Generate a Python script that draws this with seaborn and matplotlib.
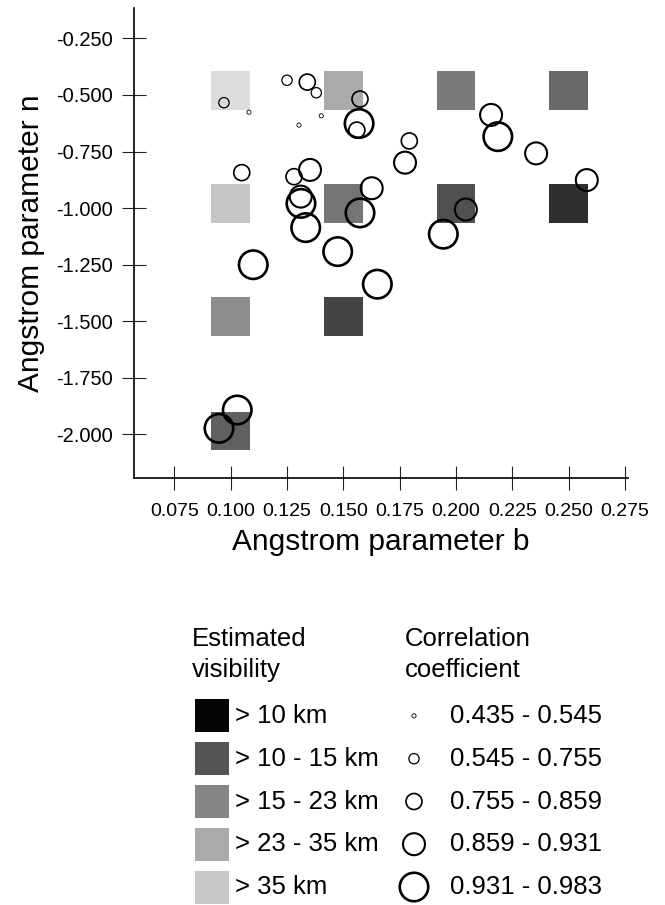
import numpy as np
import pandas as pd
import matplotlib
matplotlib.use("Agg")
import matplotlib.pyplot as plt
from matplotlib.patches import Rectangle
from matplotlib.colors import LinearSegmentedColormap
from matplotlib.ticker import FormatStrFormatter
import seaborn as sns

# --- estimated visibility grid (filled squares) ---
grid_b = [0.10, 0.15, 0.20, 0.25, 0.10, 0.15, 0.20, 0.25, 0.10, 0.15, 0.10]
grid_n = [-0.48, -0.48, -0.48, -0.48, -0.98, -0.98, -0.98, -0.98, -1.48, -1.48, -1.985]
grid_visibility_km = [39.4, 32.3, 25.4, 22.9, 36.0, 24.7, 19.4, 14.6, 28.0, 17.7, 21.7]

# --- fitted Angstrom parameters (open circles), class = correlation range index ---
fit_b = [0.1081, 0.1303, 0.1402,
         0.0970, 0.1250, 0.1380,
         0.1340, 0.1574, 0.1560, 0.1049, 0.1281, 0.1793,
         0.1352, 0.1311, 0.1774, 0.2156, 0.2356, 0.2581, 0.2044, 0.1626,
         0.1570, 0.1312, 0.1333, 0.1475, 0.1100, 0.1574, 0.2186, 0.1944,
         0.1651, 0.1029, 0.0948]
fit_n = [-0.576, -0.633, -0.592,
         -0.534, -0.435, -0.490,
         -0.443, -0.518, -0.655, -0.843, -0.861, -0.703,
         -0.831, -0.949, -0.799, -0.588, -0.758, -0.876, -1.006, -0.912,
         -0.626, -0.979, -1.086, -1.192, -1.250, -1.021, -0.684, -1.115,
         -1.336, -1.892, -1.973]
fit_class = [0, 0, 0,
             1, 1, 1,
             2, 2, 2, 2, 2, 2,
             3, 3, 3, 3, 3, 3, 3, 3,
             4, 4, 4, 4, 4, 4, 4, 4, 4, 4, 4]

corr_ranges = ["0.435 - 0.545", "0.545 - 0.755", "0.755 - 0.859",
               "0.859 - 0.931", "0.931 - 0.983"]
visibility_classes = ["> 10 km", "> 10 - 15 km", "> 15 - 23 km",
                      "> 23 - 35 km", "> 35 km"]
visibility_colors = ["#040404", "#555555", "#858585", "#aaaaaa", "#c8c8c8"]

x_ticks = [0.075, 0.100, 0.125, 0.150, 0.175, 0.200, 0.225, 0.250, 0.275]
y_ticks = [-0.250, -0.500, -0.750, -1.000, -1.250, -1.500, -1.750, -2.000]

# marker area (pt^2) and edge width (pt) for each correlation class
circle_sizes = [9, 55, 133, 250, 420]
circle_widths = [0.6, 0.9, 1.2, 1.5, 1.9]

sns.set_theme(style="white")
plt.rcParams["font.family"] = ["Liberation Sans", "DejaVu Sans"]
plt.rcParams["text.color"] = "black"
plt.rcParams["axes.labelcolor"] = "black"
plt.rcParams["xtick.color"] = "black"
plt.rcParams["ytick.color"] = "black"

W, H = 665, 905
fig = plt.figure(figsize=(W / 100, H / 100), dpi=100)
fig.patch.set_facecolor("white")

# axes box in pixels
left, right, top, bottom = 134, 628, 8.3, 478.3
ax = fig.add_axes([left / W, 1 - bottom / H, (right - left) / W, (bottom - top) / H])
ax.set_facecolor("white")

grid_df = pd.DataFrame({"b": grid_b, "n": grid_n, "vis": grid_visibility_km})
fit_df = pd.DataFrame({"b": fit_b, "n": fit_n, "cls": fit_class})

gray_cmap = LinearSegmentedColormap.from_list("vis_gray", ["#000000", "#e0e0e0"])
sns.scatterplot(data=grid_df, x="b", y="n", hue="vis", palette=gray_cmap,
                hue_norm=(8, 40), marker="s", s=780, linewidth=0,
                legend=False, ax=ax, zorder=2)

for k in range(len(corr_ranges)):
    sub = fit_df[fit_df["cls"] == k]
    sns.scatterplot(data=sub, x="b", y="n", s=circle_sizes[k],
                    facecolor="none", edgecolor="black",
                    linewidth=circle_widths[k], legend=False, ax=ax, zorder=3)

ax.set_xlim(0.05706, 0.2764)
ax.set_ylim(-2.1938, -0.1169)
ax.set_xticks(x_ticks)
ax.set_yticks(y_ticks)
ax.xaxis.set_major_formatter(FormatStrFormatter("%.3f"))
ax.yaxis.set_major_formatter(FormatStrFormatter("%.3f"))
ax.tick_params(axis="both", which="major", bottom=True, left=True,
               direction="inout", length=17, width=0.8,
               color="#222222", labelcolor="black")
ax.tick_params(axis="x", pad=9, labelsize=14)
ax.tick_params(axis="y", pad=7, labelsize=14.5)
for side in ["top", "right"]:
    ax.spines[side].set_visible(False)
for side in ["left", "bottom"]:
    ax.spines[side].set_color("black")
    ax.spines[side].set_linewidth(1.2)

ax.set_xlabel("Angstrom parameter b", fontsize=21.5, labelpad=6, color="black")
ax.set_ylabel("Angstrom parameter n", fontsize=21.5, labelpad=8, color="black")

# --- legend block, drawn in pixel coordinates ---
lg = fig.add_axes([0, 0, 1, 1], facecolor="none")
lg.set_xlim(0, W)
lg.set_ylim(H, 0)
lg.axis("off")

fs = 18.5
lg.text(191.7, 639, "Estimated", fontsize=fs, va="center", ha="left", color="black")
lg.text(191.7, 670, "visibility", fontsize=fs, va="center", ha="left", color="black")
lg.text(405, 639, "Correlation", fontsize=fs, va="center", ha="left", color="black")
lg.text(405, 670, "coefficient", fontsize=fs, va="center", ha="left", color="black")

row_y = [715.8, 758.7, 801.5, 844.2, 887.0]
for i, (lab, col) in enumerate(zip(visibility_classes, visibility_colors)):
    y = row_y[i]
    lg.add_patch(Rectangle((195, y - 16.5), 34, 33, facecolor=col, edgecolor="none"))
    lg.text(235, y, lab, fontsize=fs, va="center", ha="left", color="black")

for k, lab in enumerate(corr_ranges):
    y = row_y[k]
    lg.scatter([414], [y], s=circle_sizes[k], facecolor="none",
               edgecolor="black", linewidth=circle_widths[k])
    lg.text(450, y, lab, fontsize=fs, va="center", ha="left", color="black")

fig.savefig("out.png", dpi=100, facecolor="white")
